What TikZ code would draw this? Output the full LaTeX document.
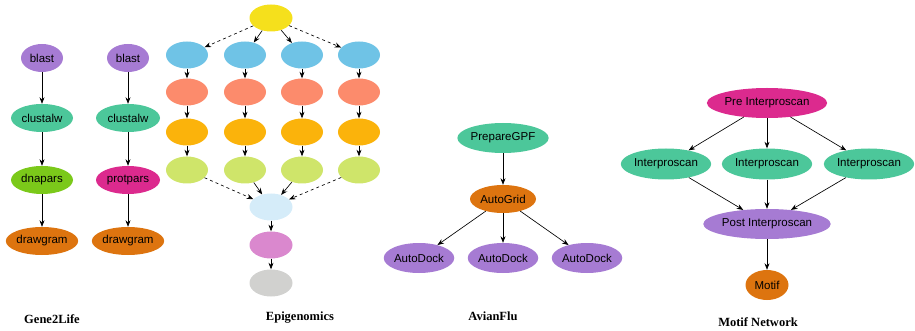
\documentclass[tikz,border=0pt]{standalone}
\usepackage{fontspec}
\setmainfont{Liberation Serif}
\setsansfont{Liberation Sans}
\usetikzlibrary{shapes.geometric,arrows.meta}

\definecolor{jpurple}{HTML}{A67BD3}
\definecolor{jgreen}{HTML}{4CC79A}
\definecolor{jlime}{HTML}{7BC91A}
\definecolor{jmagenta}{HTML}{DC2A8E}
\definecolor{jorange}{HTML}{DD740F}
\definecolor{eyellow}{HTML}{F5E01C}
\definecolor{eblue}{HTML}{6FC3E6}
\definecolor{esalmon}{HTML}{FC8B6C}
\definecolor{eorange}{HTML}{FBB30B}
\definecolor{elime}{HTML}{CFE56A}
\definecolor{epale}{HTML}{D5ECF9}
\definecolor{epink}{HTML}{DA88CE}
\definecolor{egray}{HTML}{D1D1CF}

\tikzset{
  job/.style={ellipse, fill=#1, inner sep=0pt, minimum height=28pt,
    font=\sffamily\fontsize{11.5}{13}\selectfont},
  flow/.style={-{Stealth[length=6.5pt,width=5pt]}, black, line width=0.65pt},
  wftitle/.style={font=\bfseries\fontsize{12.5}{14}\selectfont}
}

\begin{document}
\begin{tikzpicture}[x=1pt,y=-1pt]
	\useasboundingbox (0,0) rectangle (915,331);

	% Gene2Life
	\node[job=jpurple, minimum width=42pt] (gbA) at (42,58) {blast};
	\node[job=jgreen, minimum width=62pt] (gcA) at (42,118) {clustalw};
	\node[job=jlime, minimum width=62pt] (gpA) at (42,180) {dnapars};
	\node[job=jorange, minimum width=70pt] (gdA) at (42,241) {drawgram};
	\node[job=jpurple, minimum width=42pt] (gbB) at (128,58) {blast};
	\node[job=jgreen, minimum width=64pt] (gcB) at (128,118) {clustalw};
	\node[job=jmagenta, minimum width=64pt] (gpB) at (128,180) {protpars};
	\node[job=jorange, minimum width=72pt] (gdB) at (128,241) {drawgram};
	\foreach \c in {A,B}{
		\draw[flow] (gb\c) -- (gc\c);
		\draw[flow] (gc\c) -- (gp\c);
		\draw[flow] (gp\c) -- (gd\c);
	}

	% Epigenomics
	\node[job=eyellow, minimum width=43pt, minimum height=27pt] (etop) at (271,18) {};
	\foreach \i/\x in {1/187,2/245,3/302,4/359}{
		\node[job=eblue, minimum width=42pt, minimum height=27pt] (eb\i) at (\x,55) {};
		\node[job=esalmon, minimum width=42pt, minimum height=27pt] (es\i) at (\x,92) {};
		\node[job=eorange, minimum width=42pt, minimum height=27pt] (eo\i) at (\x,132) {};
		\node[job=elime, minimum width=42pt, minimum height=27pt] (el\i) at (\x,170) {};
		\draw[flow] (eb\i) -- (es\i);
		\draw[flow] (es\i) -- (eo\i);
		\draw[flow] (eo\i) -- (el\i);
	}
	\node[job=epale, minimum width=43pt, minimum height=27pt] (emerge) at (271,207) {};
	\node[job=epink, minimum width=43pt, minimum height=27pt] (epink) at (271,245) {};
	\node[job=egray, minimum width=43pt, minimum height=27pt] (egray) at (271,283) {};
	\draw[flow, dashed] (etop) -- (eb1);
	\draw[flow] (etop) -- (eb2);
	\draw[flow] (etop) -- (eb3);
	\draw[flow, dashed] (etop) -- (eb4);
	\draw[flow, dashed] (el1) -- (emerge);
	\draw[flow] (el2) -- (emerge);
	\draw[flow] (el3) -- (emerge);
	\draw[flow, dashed] (el4) -- (emerge);
	\draw[flow] (emerge) -- (epink);
	\draw[flow] (epink) -- (egray);

	% AvianFlu
	\node[job=jgreen, minimum width=88pt, minimum height=30pt] (aprep) at (503,138) {PrepareGPF};
	\node[job=jorange, minimum width=66pt] (agrid) at (503,199) {AutoGrid};
	\foreach \i/\x in {1/419,2/503,3/587}{
		\node[job=jpurple, minimum width=70pt, minimum height=30pt] (adock\i) at (\x,258) {AutoDock};
		\draw[flow] (agrid) -- (adock\i);
	}
	\draw[flow] (aprep) -- (agrid);

	% Motif Network
	\node[job=jmagenta, minimum width=112pt, minimum height=30pt] (mpre) at (767,103) {Pre Interproscan};
	\foreach \i/\x in {1/666,2/767,3/869}{
		\node[job=jgreen, minimum width=88pt, minimum height=31pt] (mscan\i) at (\x,164) {Interproscan};
		\draw[flow] (mpre) -- (mscan\i);
	}
	\node[job=jpurple, minimum width=120pt, minimum height=30pt] (mpost) at (767,224) {Post Interproscan};
	\foreach \i in {1,2,3}{
		\draw[flow] (mscan\i) -- (mpost);
	}
	\node[job=jorange, minimum width=43pt, minimum height=30pt] (mmotif) at (767,285) {Motif};
	\draw[flow] (mpost) -- (mmotif);

	\node[wftitle] (tgene) at (52,319) {Gene2Life};
	\node[wftitle] (tepi) at (300,318) {Epigenomics};
	\node[wftitle] (tavian) at (493,316) {AvianFlu};
	\node[wftitle] (tmotif) at (758,322) {Motif Network};
\end{tikzpicture}
\end{document}
